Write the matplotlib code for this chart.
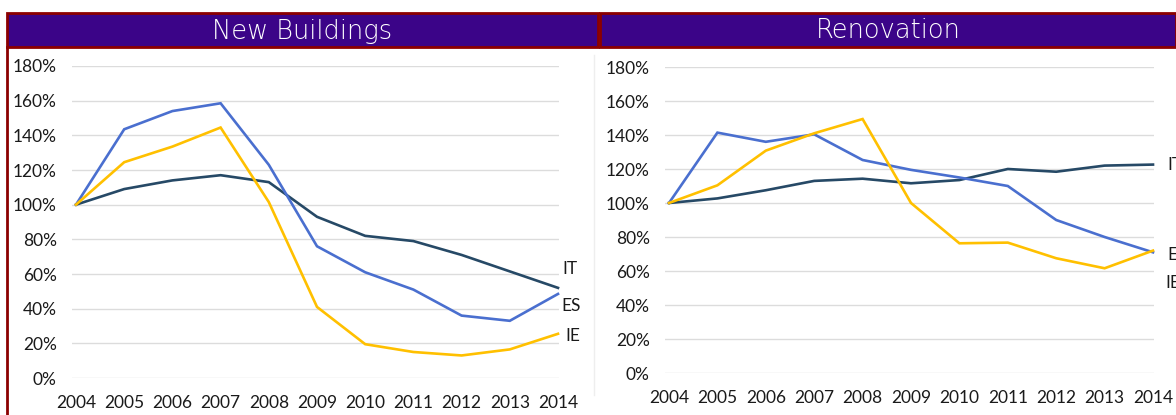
import matplotlib
matplotlib.use("Agg")
import matplotlib.pyplot as plt
from matplotlib.patches import Rectangle
from matplotlib.lines import Line2D
from matplotlib.ticker import FuncFormatter

years = [2004, 2005, 2006, 2007, 2008, 2009, 2010, 2011, 2012, 2013, 2014]
series_names = ["IT", "ES", "IE"]
panel_titles = ["New Buildings", "Renovation"]

new_it = [100, 109, 114, 117, 113, 93, 82, 79, 71, 61.5, 52]
new_es = [100, 143.5, 154, 158.5, 123, 76, 61, 51, 36, 33, 48.5]
new_ie = [100, 124.5, 133.5, 144.5, 101.5, 41, 19.5, 15, 13, 16.5, 25.5]

ren_it = [100, 102.7, 107.5, 113, 114.3, 111.6, 113.5, 120, 118.4, 122, 122.6]
ren_es = [100, 141.4, 136, 140.4, 125.3, 119.5, 115, 110, 90, 80, 71]
ren_ie = [100, 110.4, 130.8, 141, 149.4, 100, 76.3, 76.7, 67.5, 61.6, 72]

yticks = [0, 20, 40, 60, 80, 100, 120, 140, 160, 180]

colors = {"IT": "#264966", "ES": "#4A6FCF", "IE": "#FFC000"}

W, H = 1176, 415
fig = plt.figure(figsize=(W / 100, H / 100), dpi=100)
fig.patch.set_facecolor("white")

def fx(px):
    return px / W

def fy(py):
    return 1 - py / H

# banners
for (x0, x1), title in zip([(7, 598), (600, 1176)], panel_titles):
    fig.patches.append(Rectangle((fx(x0), fy(47)), fx(x1 - x0), (34) / H,
                                 transform=fig.transFigure, facecolor="#3B0488",
                                 edgecolor="#8B0000", linewidth=2.0, zorder=5))
    fig.text(fx((x0 + x1) / 2), fy(31), title, ha="center", va="center",
             color="white", fontsize=18.5, family="DejaVu Sans", weight="light", zorder=6)

# left panel red border and faint separator
fig.lines.append(Line2D([fx(7), fx(7)], [fy(47), 0], transform=fig.transFigure,
                        color="#8B0000", linewidth=2.0))
fig.lines.append(Line2D([fx(594), fx(594)], [fy(55), fy(395)], transform=fig.transFigure,
                        color="#EEEEEE", linewidth=1.0))

panels = [
    dict(x2004=76, x2014=558, y0=378, y180=66, data=[new_it, new_es, new_ie],
         label_pos=[(2014.1, 62.9), (2014.06, 41.5), (2014.16, 24.2)]),
    dict(x2004=669, x2014=1153, y0=373, y180=67, data=[ren_it, ren_es, ren_ie],
         label_pos=[(2014.29, 122.4), (2014.29, 69.4), (2014.25, 52.9)]),
]

for p in panels:
    per_year = (p["x2014"] - p["x2004"]) / 10.0
    left_px = p["x2004"] - 0.08 * per_year
    right_px = p["x2014"] + 0.02 * per_year
    ax = fig.add_axes([fx(left_px), fy(p["y0"]), fx(right_px - left_px),
                       (p["y0"] - p["y180"]) / H])
    ax.set_xlim(2004 - 0.08, 2014 + 0.02)
    ax.set_ylim(0, 180)
    ax.set_facecolor("none")
    for s in ax.spines.values():
        s.set_visible(False)
    ax.set_yticks(yticks)
    ax.yaxis.set_major_formatter(FuncFormatter(lambda v, _: f"{int(v)}%"))
    ax.set_xticks(years)
    ax.set_xticklabels([str(y) for y in years])
    ax.tick_params(length=0, labelsize=12.5, colors="#1a1a1a")
    ax.tick_params(axis="y", pad=11)
    ax.tick_params(axis="x", pad=12)
    for lab in ax.get_xticklabels() + ax.get_yticklabels():
        lab.set_family("Lato")
    ax.grid(axis="y", color="#DCDCDC", linewidth=1.0)
    ax.set_axisbelow(True)
    for name, vals, (lx, ly) in zip(series_names, p["data"], p["label_pos"]):
        ax.plot(years, vals, color=colors[name], linewidth=1.9, clip_on=False,
                solid_joinstyle="miter")
        ax.text(lx, ly, name, ha="left", va="center", fontsize=12.5,
                family="Lato", color="#1a1a1a", clip_on=False)

fig.savefig("out.png", dpi=100, facecolor="white")
